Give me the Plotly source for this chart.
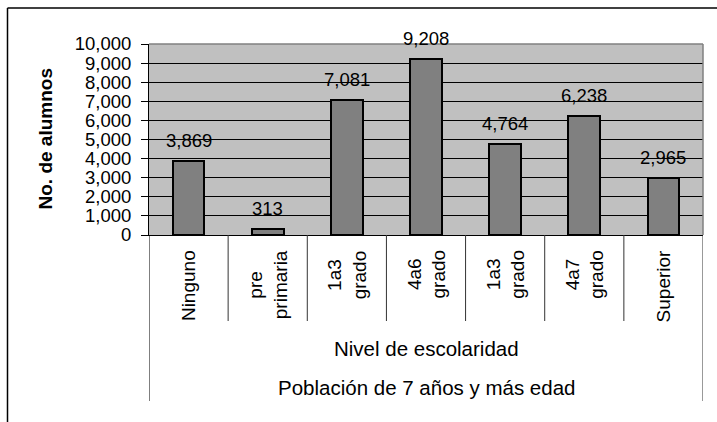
import plotly.graph_objects as go

# ---- data ----
categories = ["Ninguno", "pre<br>primaria", "1a3<br>grado", "4a6<br>grado",
              "1a3<br>grado", "4a7<br>grado", "Superior"]
alumnos = [3869, 313, 7081, 9208, 4764, 6238, 2965]
y_ticks = [0, 1000, 2000, 3000, 4000, 5000, 6000, 7000, 8000, 9000, 10000]
y_title = "No. de alumnos"
level2 = "Nivel de escolaridad"
level3 = "Población de 7 años y más edad"

W, H = 717, 422
L, R, T, B = 149, 703, 44, 235  # plot area in pixels
FONT = "Liberation Sans, Arial, sans-serif"


def px_x(px):
    return (px - L) / (R - L)


def px_y(py):
    return (B - py) / (B - T)


xs = list(range(len(categories)))

fig = go.Figure()
fig.add_trace(go.Bar(
    x=xs, y=alumnos, width=0.4,
    marker=dict(color="#808080", line=dict(color="#000000", width=2)),
    hoverinfo="skip",
))

annotations = []
# data labels
for x, v in zip(xs, alumnos):
    annotations.append(dict(
        x=x, y=v, xref="x", yref="y", text=f"{v:,}", showarrow=False,
        yanchor="bottom", yshift=8, font=dict(family=FONT, size=18.5, color="#000"),
    ))
# category labels (rotated)
for x, c in zip(xs, categories):
    annotations.append(dict(
        x=x, y=px_y(248), xref="x", yref="paper", text=c, showarrow=False,
        textangle=-90, xanchor="center", yanchor="top", align="center",
        font=dict(family=FONT, size=19, color="#000"),
    ))
annotations.append(dict(
    x=0.5, y=px_y(348), xref="paper", yref="paper", text=level2, showarrow=False,
    yanchor="middle", font=dict(family=FONT, size=20.5, color="#000"),
))
annotations.append(dict(
    x=0.5, y=px_y(387), xref="paper", yref="paper", text=level3, showarrow=False,
    yanchor="middle", font=dict(family=FONT, size=20.5, color="#000"),
))
annotations.append(dict(
    x=px_x(45), y=0.5, xref="paper", yref="paper", text=f"<b>{y_title}</b>",
    showarrow=False, textangle=-90, xanchor="center", yanchor="middle",
    font=dict(family=FONT, size=19, color="#000"),
))

shapes = []
# outer chart border (left + top)
shapes.append(dict(type="line", xref="paper", yref="paper",
                   x0=px_x(7.5), x1=px_x(7.5), y0=px_y(8), y1=px_y(440),
                   line=dict(color="#000", width=1.5)))
shapes.append(dict(type="line", xref="paper", yref="paper",
                   x0=px_x(7.5), x1=px_x(730), y0=px_y(8), y1=px_y(8),
                   line=dict(color="#000", width=1.5)))
# plot area border top/right (gray)
shapes.append(dict(type="line", xref="paper", yref="paper",
                   x0=0, x1=1, y0=1, y1=1, line=dict(color="#808080", width=1.5)))
shapes.append(dict(type="line", xref="paper", yref="paper",
                   x0=1, x1=1, y0=0, y1=1, line=dict(color="#808080", width=1.5)))
# category separators
n = len(categories)
for i in range(1, n):
    shapes.append(dict(type="line", xref="x", yref="paper",
                       x0=i - 0.5, x1=i - 0.5, y0=0, y1=px_y(321),
                       line=dict(color="#333", width=1)))
shapes.append(dict(type="line", xref="x", yref="paper",
                   x0=-0.5, x1=-0.5, y0=0, y1=px_y(401),
                   line=dict(color="#000", width=1)))
shapes.append(dict(type="line", xref="x", yref="paper",
                   x0=n - 0.5, x1=n - 0.5, y0=0, y1=px_y(401),
                   line=dict(color="#333", width=1)))

fig.update_layout(
    width=W, height=H,
    margin=dict(l=L, r=W - R, t=T, b=H - B, pad=0),
    paper_bgcolor="#ffffff", plot_bgcolor="#c0c0c0",
    showlegend=False, bargap=0,
    font=dict(family=FONT, color="#000"),
    xaxis=dict(range=[-0.5, n - 0.5], showticklabels=False, showgrid=False,
               zeroline=False, showline=True, linecolor="#000", linewidth=1,
               ticks="", fixedrange=True),
    yaxis=dict(range=[0, 10000], tickvals=y_ticks,
               ticktext=[f"{t:,}" for t in y_ticks],
               tickfont=dict(family=FONT, size=18.5, color="#000"),
               ticks="outside", ticklen=7, tickcolor="#000", tickwidth=1,
               ticklabelstandoff=6,
               showgrid=True, gridcolor="#000", gridwidth=1,
               zeroline=False, showline=True, linecolor="#000", linewidth=1,
               fixedrange=True),
    annotations=annotations, shapes=shapes,
)

fig.write_html(
    "out.html",
    config={"displayModeBar": False},
    post_script="document.body.style.margin='0';document.body.style.overflow='hidden';",
)
